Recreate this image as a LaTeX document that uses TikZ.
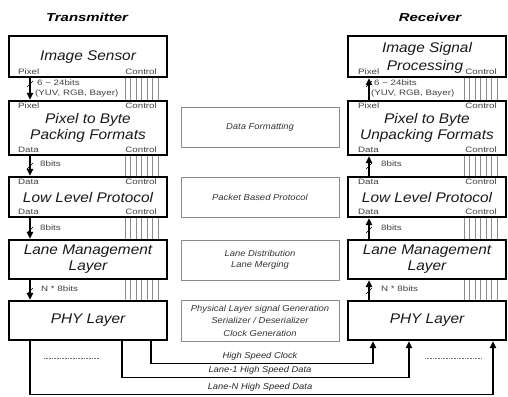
\documentclass[tikz,border=0pt]{standalone}
\usepackage{fontspec}
\setmainfont{Liberation Sans}
\newfontfamily\wideA[FakeStretch=1.1]{Liberation Sans}
\newfontfamily\wideB[FakeStretch=1.25]{Liberation Sans}
\newfontfamily\wideC[FakeStretch=1.3]{Liberation Sans}
\usetikzlibrary{arrows.meta}
\begin{document}
\begin{tikzpicture}[x=1pt,y=-1pt,
  layer/.style={draw=black, line width=2.4pt, inner sep=0pt, minimum width=158pt},
  func/.style={draw=black!45, line width=0.7pt, inner sep=0pt, minimum width=158pt, minimum height=40pt,
     font=\wideA\fontsize{8.6}{11}\selectfont\itshape, align=center, text=black!80},
  big/.style={font=\wideA\fontsize{14}{16}\selectfont\itshape, text=black!90, align=center},
  small/.style={font=\wideB\fontsize{7.8}{8}\selectfont, text=black!75, inner sep=0pt},
  bottomlbl/.style={font=\wideA\fontsize{8.5}{9}\selectfont\itshape, text=black!85, inner sep=0pt},
  title/.style={font=\wideC\fontsize{11.5}{13}\selectfont\bfseries\itshape},
  arr/.style={line width=1.3pt, -{Triangle[length=7pt,width=6.5pt]}},
  bus/.style={line width=1.3pt},
  ctrl/.style={draw=black!45, line width=0.6pt},
  dots/.style={draw=black!55, line width=0.6pt, dash pattern=on 1pt off 0.6pt},
]
\useasboundingbox (0,0) rectangle (508,396);

% titles
\node[title] (tT) at (87,17) {Transmitter};
\node[title] (tR) at (430,17) {Receiver};

% transmitter boxes
\node[layer, minimum height=41pt] (isT) at (88,56.5) {};
\node[big] (isTt) at (88,57) {Image Sensor};
\node[layer, minimum height=54pt, big] (pbT) at (88,128) {Pixel to Byte\\Packing Formats};
\node[layer, minimum height=40pt, big] (llT) at (88,197) {Low Level Protocol};
\node[layer, minimum height=39pt, big] (lmT) at (88,259.5) {Lane Management\\Layer};
\node[layer, minimum height=39pt, big] (phT) at (88,320.5) {PHY Layer};

% receiver boxes
\node[layer, minimum height=41pt] (isR) at (427,56.5) {};
\node[big] (isRt1) at (427,49) {Image Signal};
\node[big] (isRt2) at (425,67) {Processing};
\node[layer, minimum height=54pt, big] (pbR) at (427,128) {Pixel to Byte\\Unpacking Formats};
\node[layer, minimum height=40pt, big] (llR) at (427,197) {Low Level Protocol};
\node[layer, minimum height=39pt, big] (lmR) at (427,259.5) {Lane Management\\Layer};
\node[layer, minimum height=39pt, big] (phR) at (427,320.5) {PHY Layer};

% middle function boxes
\node[func] (dfM) at (260,127) {Data Formatting};
\node[func] (pbM) at (260,197) {Packet Based Protocol};
\node[func] (ldM) at (260,260) {Lane Distribution\\Lane Merging};
\node[func, minimum height=41pt, font=\wideA\fontsize{8.6}{12.5}\selectfont\itshape] (phM) at (260,320.5) {Physical Layer signal Generation\\Serializer / Deserializer\\Clock Generation};

% port labels transmitter
\node[small, anchor=west] (l1) at (18,72) {Pixel};
\node[small, anchor=east] (l2) at (157,72) {Control};
\node[small, anchor=west] (l3) at (18,106) {Pixel};
\node[small, anchor=east] (l4) at (157,106) {Control};
\node[small, anchor=west] (l5) at (18,149.5) {Data};
\node[small, anchor=east] (l6) at (157,149.5) {Control};
\node[small, anchor=west] (l7) at (18,182) {Data};
\node[small, anchor=east] (l8) at (157,182) {Control};
\node[small, anchor=west] (l9) at (18,211.5) {Data};
\node[small, anchor=east] (l10) at (157,211.5) {Control};

% port labels receiver
\node[small, anchor=west] (r1) at (358,72) {Pixel};
\node[small, anchor=east] (r2) at (497,72) {Control};
\node[small, anchor=west] (r3) at (358,106) {Pixel};
\node[small, anchor=east] (r4) at (497,106) {Control};
\node[small, anchor=west] (r5) at (358,149.5) {Data};
\node[small, anchor=east] (r6) at (497,149.5) {Control};
\node[small, anchor=west] (r7) at (358,182) {Data};
\node[small, anchor=east] (r8) at (497,182) {Control};
\node[small, anchor=west] (r9) at (358,211.5) {Data};
\node[small, anchor=east] (r10) at (497,211.5) {Control};

% data path x positions
\coordinate (txX) at (30,0);
\coordinate (rxX) at (369,0);

% transmitter data arrows
\draw[arr] (isT.south -| txX) -- (pbT.north -| txX);
\draw[arr] (pbT.south -| txX) -- (llT.north -| txX);
\draw[arr] (llT.south -| txX) -- (lmT.north -| txX);
\draw[arr] (lmT.south -| txX) -- (phT.north -| txX);
% receiver data arrows
\draw[arr] (pbR.north -| rxX) -- (isR.south -| rxX);
\draw[arr] (llR.north -| rxX) -- (pbR.south -| rxX);
\draw[arr] (lmR.north -| rxX) -- (llR.south -| rxX);
\draw[arr] (phR.north -| rxX) -- (lmR.south -| rxX);

% bus slashes
\foreach \yy in {84,166,230,291}{
  \draw[line width=0.5pt] (27,\yy+3) -- (33,\yy-3);
  \draw[line width=0.5pt] (366,\yy+3) -- (372,\yy-3);
}

% width labels
\node[small, anchor=west] (w1) at (37,82.5) {6 \textasciitilde{} 24bits};
\node[small, anchor=west] (w2) at (35,93.5) {(YUV, RGB, Bayer)};
\node[small, anchor=west] (w3) at (40,164) {8bits};
\node[small, anchor=west] (w4) at (40,228) {8bits};
\node[small, anchor=west] (w5) at (41,289) {N * 8bits};
\node[small, anchor=west] (w6) at (374,82.5) {6 \textasciitilde{} 24bits};
\node[small, anchor=west] (w7) at (371,93.5) {(YUV, RGB, Bayer)};
\node[small, anchor=west] (w8) at (381,164) {8bits};
\node[small, anchor=west] (w9) at (381,228) {8bits};
\node[small, anchor=west] (w10) at (381,289) {N * 8bits};

% control line bundles
\foreach \d in {10,15.5,21,26.5,32,37.5,43}{
  \draw[ctrl] ([xshift=-\d pt]isT.south east) -- ([xshift=-\d pt]pbT.north east);
  \draw[ctrl] ([xshift=-\d pt]pbT.south east) -- ([xshift=-\d pt]llT.north east);
  \draw[ctrl] ([xshift=-\d pt]llT.south east) -- ([xshift=-\d pt]lmT.north east);
  \draw[ctrl] ([xshift=-\d pt]lmT.south east) -- ([xshift=-\d pt]phT.north east);
  \draw[ctrl] ([xshift=-\d pt]isR.south east) -- ([xshift=-\d pt]pbR.north east);
  \draw[ctrl] ([xshift=-\d pt]pbR.south east) -- ([xshift=-\d pt]llR.north east);
  \draw[ctrl] ([xshift=-\d pt]llR.south east) -- ([xshift=-\d pt]lmR.north east);
  \draw[ctrl] ([xshift=-\d pt]lmR.south east) -- ([xshift=-\d pt]phR.north east);
}

% high speed lines
\coordinate (ckT) at (151,363.5);
\coordinate (l1T) at (122,377.5);
\coordinate (lnT) at (30,394.5);
\coordinate (ckR) at (373,363.5);
\coordinate (l1R) at (409,377.5);
\coordinate (lnR) at (493,394.5);
\draw[bus] (phT.south -| ckT) |- (ckT) -- (ckR);
\draw[arr] (ckR) -- (phR.south -| ckR);
\draw[bus] (phT.south -| l1T) |- (l1T) -- (l1R);
\draw[arr] (l1R) -- (phR.south -| l1R);
\draw[bus] (phT.south -| lnT) |- (lnT) -- (lnR);
\draw[arr] (lnR) -- (phR.south -| lnR);

\node[bottomlbl] (hsc) at (260,356.5) {High Speed Clock};
\node[bottomlbl] (hs1) at (260,370.5) {Lane-1 High Speed Data};
\node[bottomlbl] (hsn) at (260,387.5) {Lane-N High Speed Data};

% dotted separators
\coordinate (dA) at (44,358);
\coordinate (dB) at (99,358);
\coordinate (dC) at (425,358);
\coordinate (dD) at (482,358);
\draw[dots] (dA) -- (dB);
\draw[dots] (dC) -- (dD);
\end{tikzpicture}
\end{document}
